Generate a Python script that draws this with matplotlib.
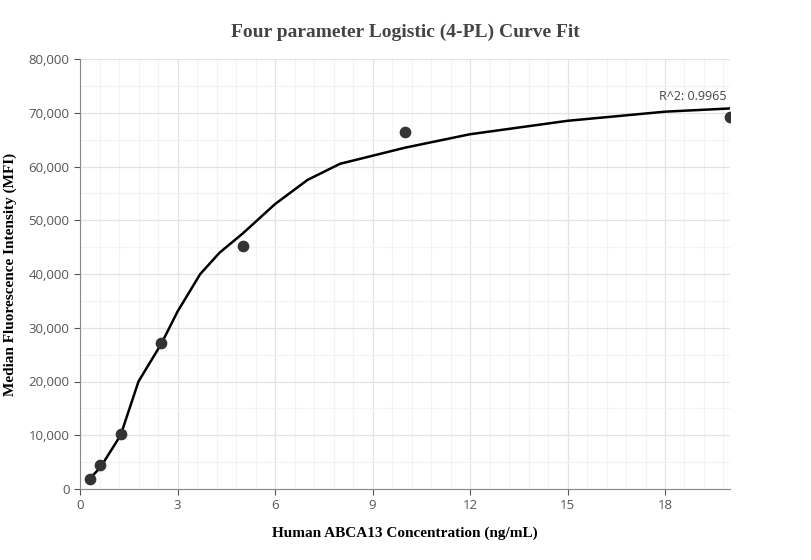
import matplotlib.pyplot as plt
from matplotlib.ticker import MultipleLocator, FuncFormatter

# measured standards
conc = [0.3125, 0.625, 1.25, 2.5, 5, 10, 20]
mfi = [1900, 4500, 10300, 27200, 45300, 66400, 69200]

# fitted curve
fit_x = [0.3125, 0.625, 1.25, 1.8, 2.5, 3, 3.7, 4.3, 5, 6, 7, 8, 10, 12, 15, 18, 20]
fit_y = [2000, 4000, 10000, 20000, 27000, 33000, 40000, 44000, 47500, 53000,
         57500, 60500, 63500, 66000, 68500, 70200, 70800]

fig = plt.figure(figsize=(8.11, 5.6), dpi=100)
ax = fig.add_axes([80 / 811, 1 - 489 / 560, 650 / 811, 430 / 560])

ax.plot(fit_x, fit_y, color="black", lw=1.8, zorder=2)
ax.scatter(conc, mfi, s=55, color="#333333", zorder=3)
ax.text(19.9, 71800, "R^2: 0.9965", ha="right", va="bottom",
        fontsize=9, color="#444444", family="Open Sans")

ax.set_xlim(0, 20)
ax.set_ylim(0, 80000)
ax.xaxis.set_major_locator(MultipleLocator(3))
ax.xaxis.set_minor_locator(MultipleLocator(0.6))
ax.yaxis.set_major_locator(MultipleLocator(10000))
ax.yaxis.set_minor_locator(MultipleLocator(5000))
ax.yaxis.set_major_formatter(FuncFormatter(lambda v, p: f"{int(v):,}"))
ax.grid(which="major", color="#e3e3e3", lw=0.9)
ax.grid(which="minor", color="#f3f3f3", lw=0.8)
ax.set_axisbelow(True)
for s in ["top", "right"]:
    ax.spines[s].set_visible(False)
for s in ["left", "bottom"]:
    ax.spines[s].set_color("#888888")
ax.tick_params(which="minor", length=0)
ax.tick_params(labelsize=9.5, colors="#555555", length=4)
for lab in ax.get_xticklabels() + ax.get_yticklabels():
    lab.set_family("Open Sans")

ax.set_title("Four parameter Logistic (4-PL) Curve Fit", family="Liberation Serif",
             fontweight="bold", fontsize=14, color="#444444", pad=16)
ax.set_xlabel("Human ABCA13 Concentration (ng/mL)", family="Liberation Serif",
              fontweight="bold", fontsize=11, labelpad=10)
ax.set_ylabel("Median Fluorescence Intensity (MFI)", family="Liberation Serif",
              fontweight="bold", fontsize=11, labelpad=8)

fig.savefig("out.png", dpi=100)
